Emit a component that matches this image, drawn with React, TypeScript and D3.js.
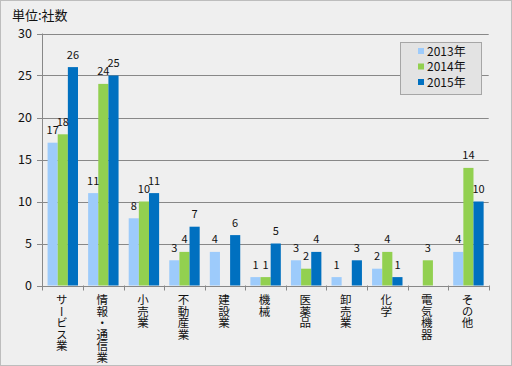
import React from "react";
import * as d3 from "d3";

const categories = ["サービス業", "情報・通信業", "小売業", "不動産業", "建設業", "機械", "医薬品", "卸売業", "化学", "電気機器", "その他"];
const seriesNames = ["2013年", "2014年", "2015年"];
const values2013: (number | null)[] = [17, 11, 8, 3, 4, 1, 3, 1, 2, null, 4];
const values2014: (number | null)[] = [18, 24, 10, 4, null, 1, 2, null, 4, 3, 14];
const values2015: (number | null)[] = [26, 25, 11, 7, 6, 5, 4, 3, 1, null, 10];
const yTicks = [0, 5, 10, 15, 20, 25, 30];
const colors = ["#9dcbfb", "#92d050", "#0070c0"];

const W = 512, H = 366;
const FONT = "'Noto Sans CJK JP', 'Noto Sans', sans-serif";

export default function App() {
  const series = [values2013, values2014, values2015];
  const x = d3.scaleBand<string>().domain(categories).range([42.5, 488.7]).paddingInner(0).paddingOuter(0);
  const inner = d3.scaleBand<number>().domain([0, 1, 2]).range([0, x.bandwidth()]).paddingOuter(0.5).paddingInner(0);
  const y = d3.scaleLinear().domain([0, 30]).range([285.5, 33.5]);
  const bw = inner.bandwidth();

  return (
    <svg width={W} height={H} style={{ position: "fixed", left: 0, top: 0 }} fontFamily={FONT}>
      <rect x={0.5} y={0.5} width={W - 1} height={H - 1} fill="#efefef" stroke="#bdbdbd" />
      <text x={12} y={20} fontSize={13} fill="#111">単位:社数</text>
      {yTicks.map((t) => (
        <g key={t}>
          <line x1={x.range()[0]} x2={x.range()[1]} y1={Math.round(y(t)) + 0.5} y2={Math.round(y(t)) + 0.5} stroke="#888" />
          <line x1={37} x2={42.5} y1={Math.round(y(t)) + 0.5} y2={Math.round(y(t)) + 0.5} stroke="#888" />
          <text x={32} y={y(t) + 4.5} fontSize={12.5} textAnchor="end" fill="#111">{t}</text>
        </g>
      ))}
      {series.map((vals, si) =>
        vals.map((v, ci) =>
          v == null ? null : (
            <rect key={`b${si}-${ci}`} x={(x(categories[ci]) as number) + (inner(si) as number)} y={y(v)} width={bw} height={y(0) - y(v)} fill={colors[si]} />
          )
        )
      )}
      <line x1={42.5} x2={42.5} y1={y(30)} y2={y(0) + 5} stroke="#888" />
      <line x1={42.5} x2={488.7} y1={Math.round(y(0)) + 0.5} y2={Math.round(y(0)) + 0.5} stroke="#888" />
      {categories.map((c, i) => {
        const tx = Math.round((x(c) as number) + x.bandwidth()) + 0.5;
        return <line key={`t${i}`} x1={tx} x2={tx} y1={y(0)} y2={y(0) + 5} stroke="#888" />;
      })}
      {series.map((vals, si) =>
        vals.map((v, ci) =>
          v == null ? null : (
            <text key={`l${si}-${ci}`} x={(x(categories[ci]) as number) + (inner(si) as number) + bw / 2} y={y(v) - 8.5} fontSize={11} textAnchor="middle" fill="#111">{v}</text>
          )
        )
      )}
      {categories.map((c, i) => (
        <text key={`c${i}`} x={(x(c) as number) + x.bandwidth() / 2 - 1} y={294} fontSize={11.5} fill="#111" style={{ writingMode: "vertical-rl", textOrientation: "upright" } as any}>{c}</text>
      ))}
      <rect x={400.5} y={42.5} width={81} height={52} fill="#e3e3e3" stroke="#a6a6a6" />
      {seriesNames.map((s, i) => (
        <g key={s}>
          <rect x={418} y={48 + i * 15.5} width={6} height={6} fill={colors[i]} />
          <text x={427} y={55.5 + i * 15.5} fontSize={12} fill="#111">{s}</text>
        </g>
      ))}
    </svg>
  );
}
